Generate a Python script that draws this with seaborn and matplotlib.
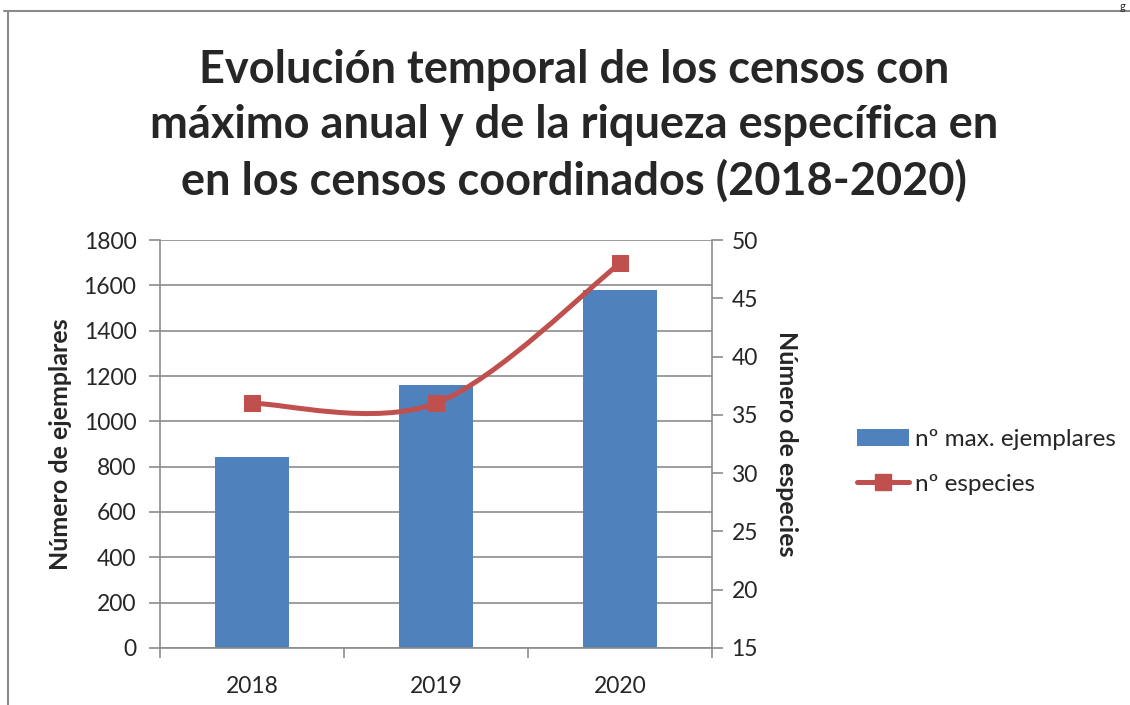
import matplotlib.pyplot as plt
import seaborn as sns
import pandas as pd
from matplotlib.path import Path
from matplotlib.patches import PathPatch, Patch
from matplotlib.lines import Line2D

# Data
years = ['2018', '2019', '2020']
max_ejemplares = [843, 1160, 1580]
n_especies = [36, 36, 48]

BLUE = '#4F81BD'
RED = '#C0504D'
GRID = '#8C8C8C'
TICK_FS = 16.5

sns.set_theme(style='white')
plt.rcParams['font.family'] = ['Lato', 'DejaVu Sans']

df = pd.DataFrame({'year': years, 'ejemplares': max_ejemplares, 'especies': n_especies})

fig = plt.figure(figsize=(11.3, 7.05), dpi=100)
ax1 = fig.add_axes([160 / 1130, 57 / 705, 552 / 1130, 408 / 705])

# bars on left axis
sns.barplot(data=df, x='year', y='ejemplares', ax=ax1, color=BLUE, width=0.4,
            saturation=1, edgecolor='none')
ax1.set_xlim(-0.5, 2.5)
ax1.set_ylim(0, 1800)
ax1.set_yticks(range(0, 1801, 200))
ax1.yaxis.grid(True, color=GRID, linewidth=1.2)
ax1.set_axisbelow(True)
ax1.set_xlabel('')
ax1.set_ylabel('Número de ejemplares', fontsize=18, fontweight='bold', labelpad=8)

# category ticks at the boundaries, like the original
ax1.set_xticks([0, 1, 2])
ax1.set_xticks([-0.5, 0.5, 1.5, 2.5], minor=True)
ax1.tick_params(axis='x', which='major', length=0, labelsize=TICK_FS, pad=20)
ax1.tick_params(axis='x', which='minor', length=7, width=1.2, color=GRID, bottom=True)
ax1.tick_params(axis='y', length=8, width=1.2, color=GRID, left=True, labelsize=TICK_FS, pad=9)

for side in ['top', 'right']:
    ax1.spines[side].set_visible(False)
for side in ['left', 'bottom']:
    ax1.spines[side].set_color(GRID)
    ax1.spines[side].set_linewidth(1.2)

# second axis for species count
ax2 = ax1.twinx()
ax2.set_ylim(15, 50)
ax2.set_yticks(range(15, 51, 5))
ax2.tick_params(axis='y', length=8, width=1.2, color=GRID, right=True, labelsize=TICK_FS, pad=6)
ax2.set_ylabel('Número de especies', fontsize=18, fontweight='bold', rotation=-90, labelpad=29)
for side in ['top', 'left', 'bottom']:
    ax2.spines[side].set_visible(False)
ax2.spines['right'].set_color(GRID)
ax2.spines['right'].set_linewidth(1.2)
ax2.grid(False)

# smoothed line (Excel-style bezier through the points)
xs = list(range(len(years)))
pts = list(zip(xs, n_especies))
verts = [pts[0]]
codes = [Path.MOVETO]
for i in range(len(pts) - 1):
    p0 = pts[i - 1] if i > 0 else pts[i]
    p1 = pts[i]
    p2 = pts[i + 1]
    p3 = pts[i + 2] if i + 2 < len(pts) else pts[i + 1]
    c1 = (p1[0] + (p2[0] - p0[0]) / 6, p1[1] + (p2[1] - p0[1]) / 6)
    c2 = (p2[0] - (p3[0] - p1[0]) / 6, p2[1] - (p3[1] - p1[1]) / 6)
    verts += [c1, c2, p2]
    codes += [Path.CURVE4] * 3
ax2.add_patch(PathPatch(Path(verts, codes), facecolor='none', edgecolor=RED,
                        linewidth=3.6, capstyle='round', zorder=3))
sns.lineplot(x=xs, y=n_especies, ax=ax2, marker='s', markersize=12, color=RED,
             linestyle='', markeredgecolor=RED, zorder=4)

# legend
handles = [Patch(facecolor=BLUE, edgecolor='none'),
           Line2D([], [], color=RED, linewidth=3.6, marker='s', markersize=12)]
fig.legend(handles, ['nº max. ejemplares', 'nº especies'], loc='center left',
           bbox_to_anchor=(845 / 1130, 1 - 462 / 705), frameon=False, fontsize=17.5,
           handlelength=2.15, handletextpad=0.25, labelspacing=0.95, borderpad=0)

# title
fig.text(574 / 1130, 1 - 126 / 705,
         'Evolución temporal de los censos con\nmáximo anual y de la riqueza específica en\nen los censos coordinados (2018-2020)',
         ha='center', va='center', fontsize=32.5, fontweight='bold', linespacing=1.38)

# chart area frame (cropped)
fig.add_artist(Line2D([4 / 1130, 1], [1 - 11 / 705] * 2, color='#8A8A8A', linewidth=1.5))
fig.add_artist(Line2D([8 / 1130] * 2, [0, 1 - 11 / 705], color='#8A8A8A', linewidth=1.5))
fig.text(1122 / 1130, 1 - 1 / 705, 'g', ha='center', va='top', fontsize=8)

plt.savefig('out.png', dpi=100)
plt.close()
